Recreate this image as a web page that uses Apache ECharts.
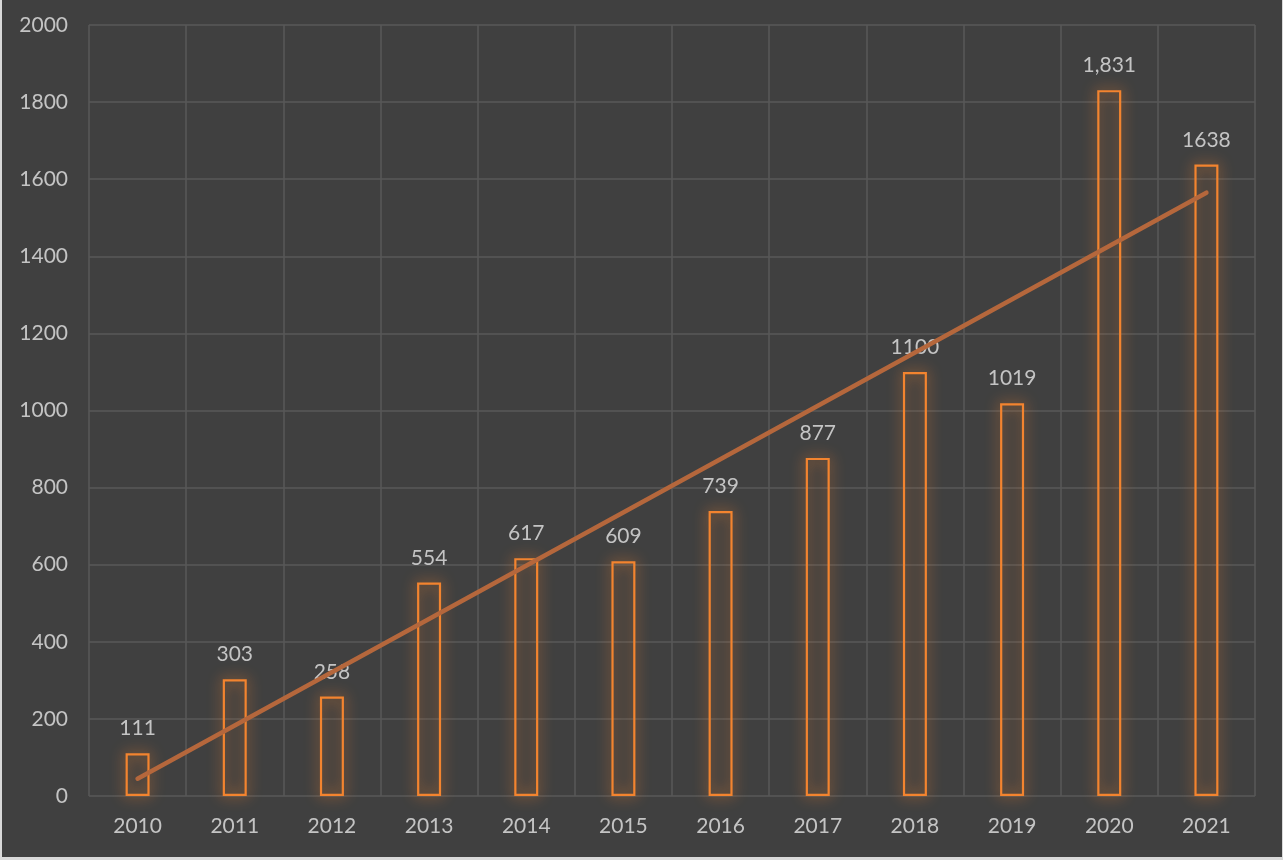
<!DOCTYPE html>
<html>
<head>
<meta charset="utf-8">
<script src="https://cdn.jsdelivr.net/npm/echarts@6/dist/echarts.min.js"></script>
<style>
  html, body { margin: 0; padding: 0; background: #d9d9d9; }
  #chart { position: absolute; left: 2px; top: 0; width: 1280px; height: 857px; }
</style>
</head>
<body>
<div id="chart"></div>
<script>
const years = ['2010', '2011', '2012', '2013', '2014', '2015', '2016', '2017', '2018', '2019', '2020', '2021'];
const counts = [111, 303, 258, 554, 617, 609, 739, 877, 1100, 1019, 1831, 1638];
const countLabels = ['111', '303', '258', '554', '617', '609', '739', '877', '1100', '1019', '1,831', '1638'];
// trend line end points
const trendStart = ['2010', 45];
const trendEnd = ['2021', 1565];

const chart = echarts.init(document.getElementById('chart'));
const textColor = '#c4c4c4';
const gridColor = '#595959';

const option = {
  backgroundColor: '#404040',
  animation: false,
  grid: {
    left: 87,
    right: 27,
    top: 25,
    bottom: 61,
  },
  xAxis: {
    type: 'category',
    data: years,
    boundaryGap: true,
    axisLine: { show: false },
    axisTick: { show: false },
    axisLabel: {
      color: textColor,
      fontFamily: 'Lato',
      fontSize: 21,
      margin: 20,
    },
    splitLine: { show: true, lineStyle: { color: gridColor, width: 1.5 } },
  },
  yAxis: {
    type: 'value',
    min: 0,
    max: 2000,
    interval: 200,
    axisLine: { show: false },
    axisTick: { show: false },
    axisLabel: {
      color: textColor,
      fontFamily: 'Lato',
      fontSize: 21,
      margin: 21,
      formatter: (v) => String(v),
    },
    splitLine: { show: true, lineStyle: { color: gridColor, width: 1.5 } },
  },
  series: [
    {
      type: 'bar',
      data: counts,
      barWidth: 24,
      itemStyle: {
        color: 'rgba(0,0,0,0)',
        borderColor: '#f3842f',
        borderWidth: 2.2,
        shadowBlur: 14,
        shadowColor: 'rgba(243,132,47,1)',
      },
      label: {
        show: true,
        position: 'top',
        distance: 14,
        color: textColor,
        fontFamily: 'Lato',
        fontSize: 21,
        formatter: (p) => countLabels[p.dataIndex],
      },
      z: 2,
    },
    {
      type: 'line',
      data: [trendStart, trendEnd],
      symbol: 'none',
      lineStyle: {
        color: '#b5673c',
        width: 4.5,
        cap: 'round',
      },
      z: 3,
    },
  ],
};

option && chart.setOption(option);
</script>
</body>
</html>
